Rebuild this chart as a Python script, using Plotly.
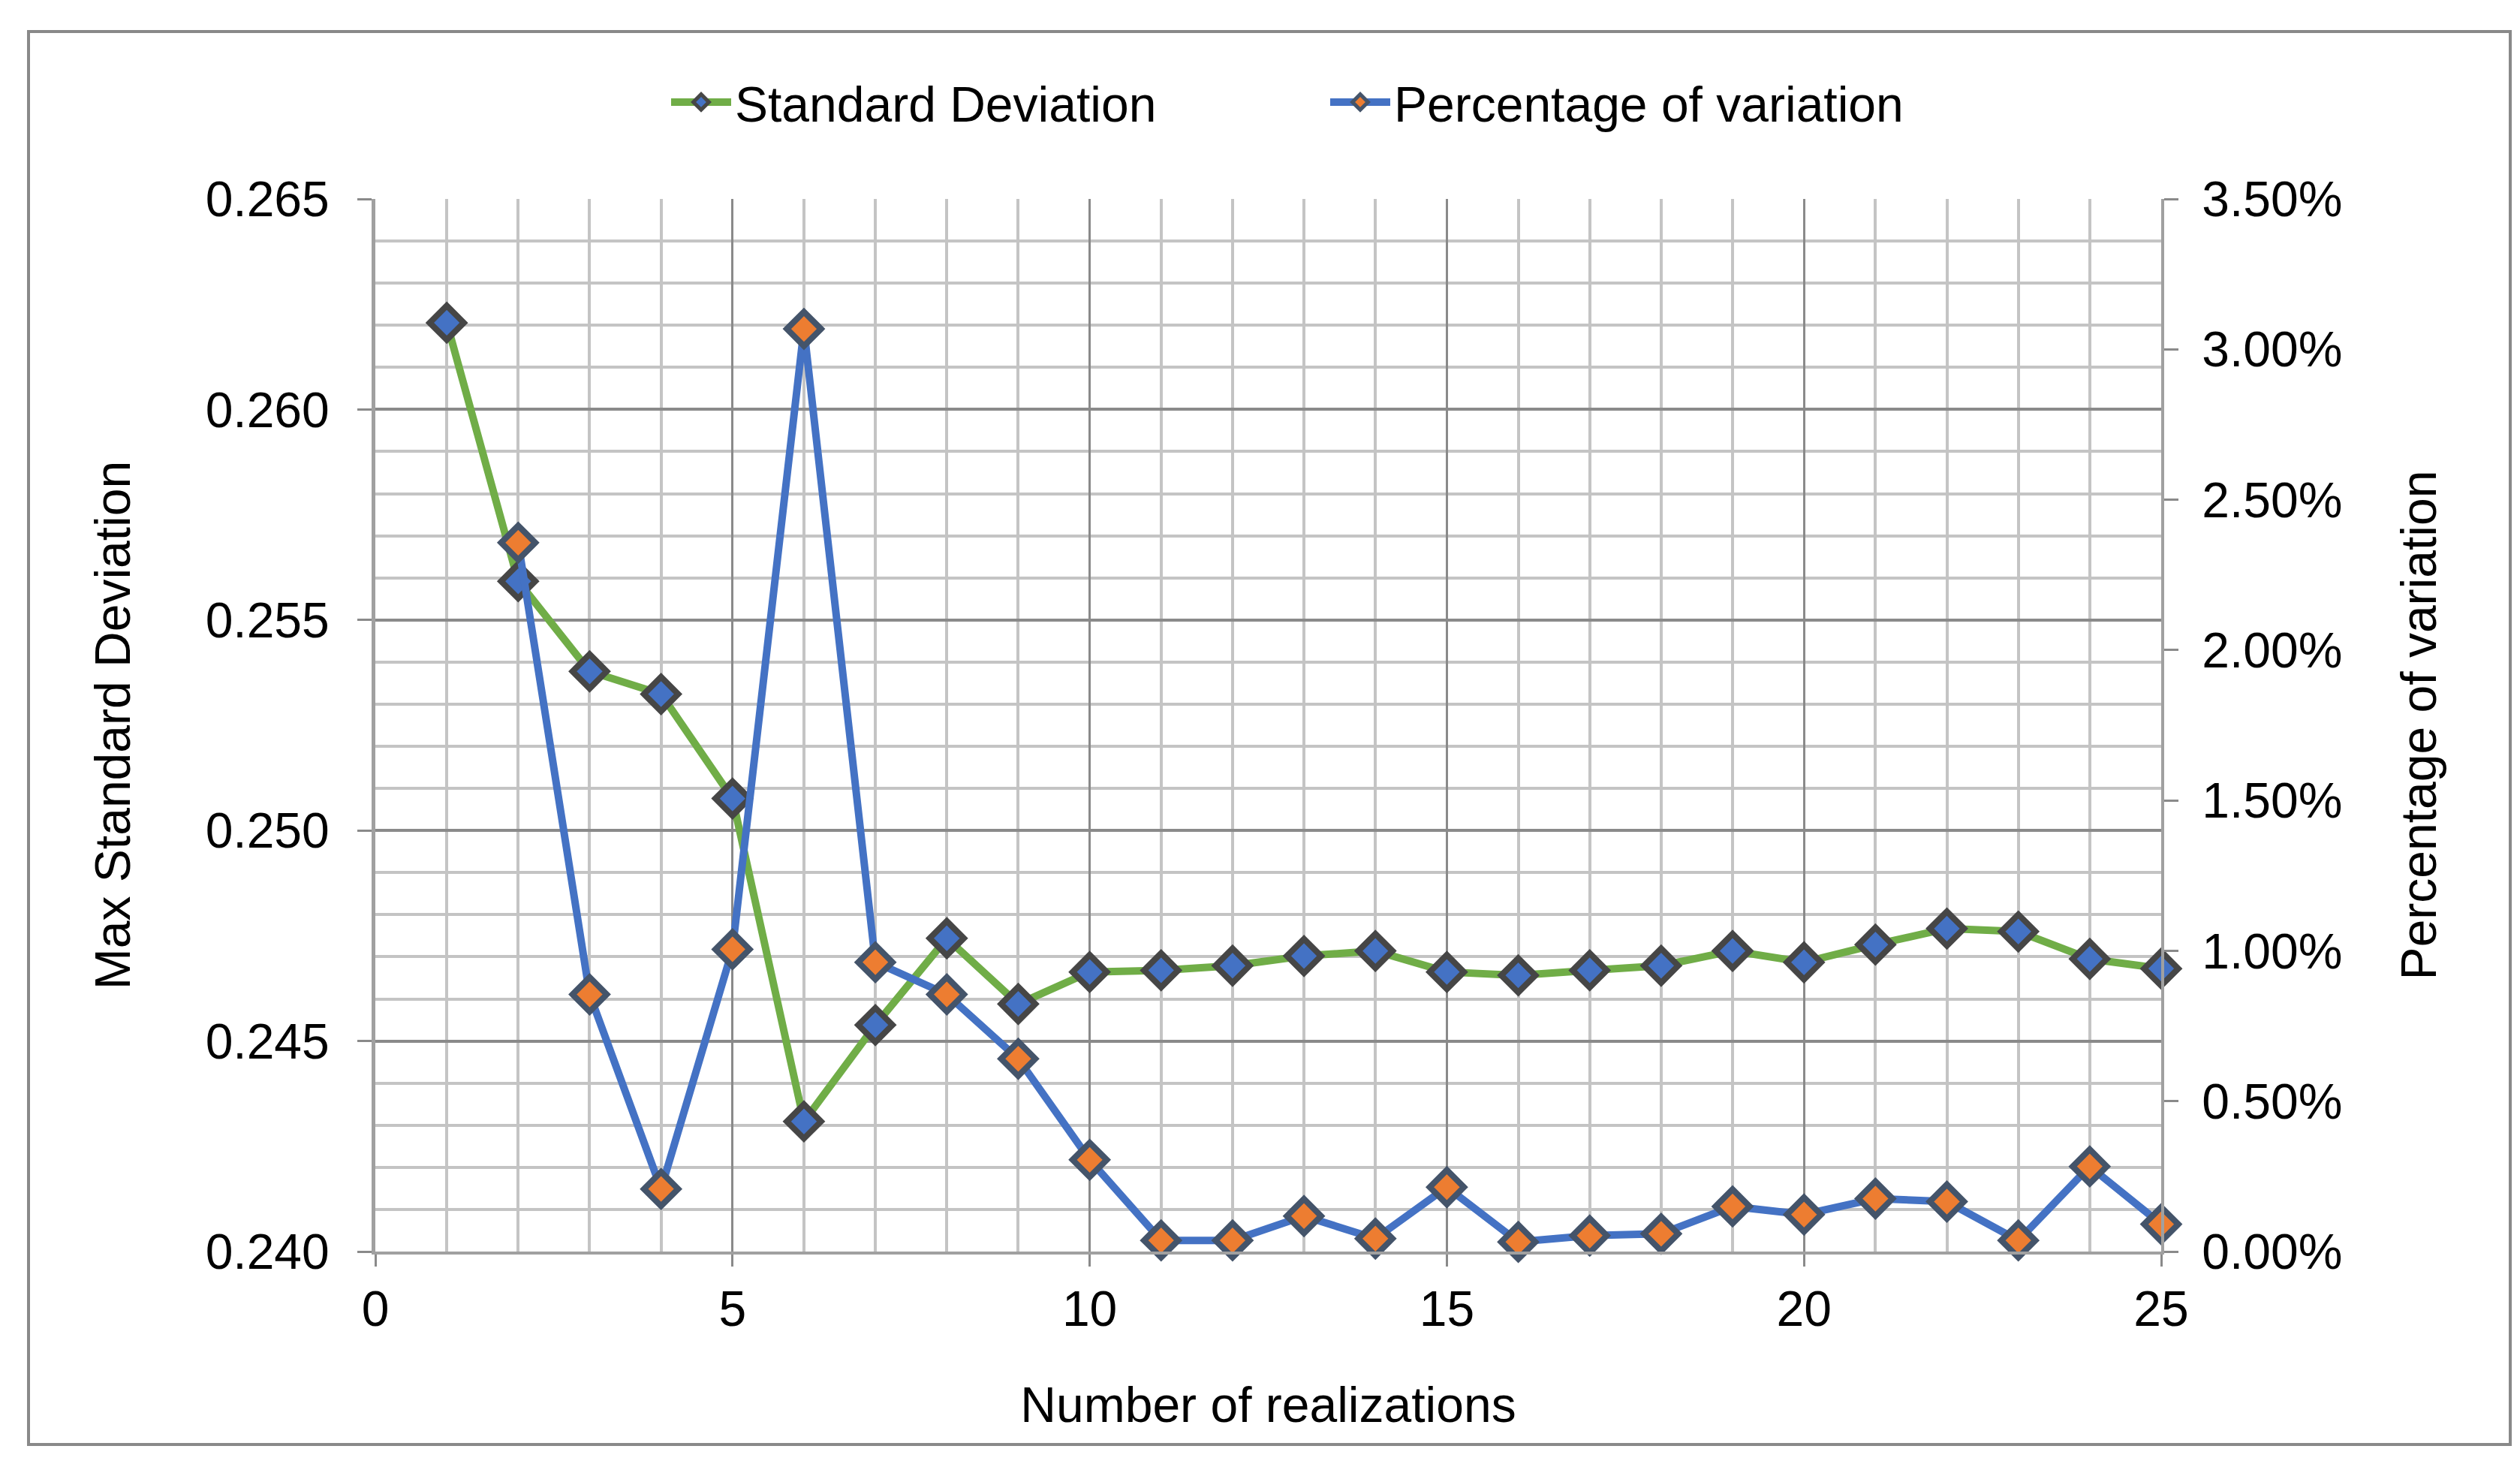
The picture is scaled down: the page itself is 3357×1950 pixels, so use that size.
import plotly.graph_objects as go

realizations = list(range(1, 26))
std_dev = [0.26206, 0.25592, 0.25378, 0.25324, 0.25076, 0.24309, 0.24538, 0.24744,
           0.24588, 0.24664, 0.24668, 0.24679, 0.24702, 0.24714, 0.24664, 0.24656,
           0.24668, 0.24679, 0.24714, 0.24687, 0.24729, 0.24767, 0.24760, 0.24695,
           0.24672]
pct_x = list(range(2, 26))
pct_var = [0.02357, 0.00855, 0.00208, 0.01005, 0.03068, 0.00962, 0.00855, 0.00641,
           0.00305, 0.00037, 0.00037, 0.00118, 0.00043, 0.00214, 0.00032, 0.00053,
           0.00059, 0.00150, 0.00123, 0.00176, 0.00166, 0.00037, 0.00283, 0.00091]

FONT = "Liberation Sans, Arial, sans-serif"
FS = 66

fig = go.Figure()
fig.add_trace(go.Scatter(
    x=realizations, y=std_dev, name="Standard Deviation", mode="lines+markers",
    line=dict(color="#70AD47", width=10),
    marker=dict(symbol="diamond", size=35, color="#4472C4",
                line=dict(color="#464646", width=8)),
    yaxis="y", cliponaxis=False))
fig.add_trace(go.Scatter(
    x=pct_x, y=pct_var, name="Percentage of variation", mode="lines+markers",
    line=dict(color="#4472C4", width=10),
    marker=dict(symbol="diamond", size=35, color="#ED7D31",
                line=dict(color="#44546A", width=8)),
    yaxis="y2", cliponaxis=False))

W, H = 3357, 1950
L, R, T, B = 492, 486, 257, 291
pw, ph = W - L - R, H - T - B

fig.update_layout(
    width=W, height=H,
    margin=dict(l=L, r=R, t=T, b=B),
    paper_bgcolor="white", plot_bgcolor="white",
    font=dict(family=FONT, size=FS, color="black"),
    showlegend=True,
    legend=dict(orientation="h", x=(881 - L) / pw, xanchor="left", y=(H - 128 - B) / ph,
                yanchor="middle", font=dict(size=FS), itemwidth=80,
                entrywidth=783, entrywidthmode="pixels",
                bgcolor="rgba(0,0,0,0)"),
    xaxis=dict(
        range=[0, 25], dtick=5, tick0=0,
        showgrid=True, gridcolor="#8a8a8a", gridwidth=3,
        minor=dict(dtick=1, showgrid=True, gridcolor="#c4c4c4", gridwidth=4,
                   ticks=""),
        ticks="outside", ticklen=16, tickwidth=3, tickcolor="#8a8a8a",
        showline=True, linecolor="#a0a0a0", linewidth=4,
        zeroline=False,
        title=dict(text="Number of realizations", standoff=70, font=dict(size=FS)),
        tickfont=dict(size=FS),
    ),
    yaxis=dict(
        range=[0.240, 0.265], dtick=0.005, tick0=0.240, tickformat=".3f",
        showgrid=True, gridcolor="#8a8a8a", gridwidth=4,
        minor=dict(dtick=0.001, showgrid=True, gridcolor="#c4c4c4", gridwidth=4,
                   ticks=""),
        ticks="outside", ticklen=19, tickwidth=3, tickcolor="#8a8a8a",
        showline=True, linecolor="#a0a0a0", linewidth=5,
        zeroline=False, ticklabelstandoff=24,
        title=dict(text="Max Standard Deviation", standoff=80, font=dict(size=FS)),
        tickfont=dict(size=FS),
    ),
    yaxis2=dict(
        range=[0, 0.035], dtick=0.005, tick0=0, tickformat=".2%",
        overlaying="y", side="right", showgrid=False,
        ticks="outside", ticklen=19, tickwidth=3, tickcolor="#8a8a8a",
        showline=True, linecolor="#a0a0a0", linewidth=4,
        zeroline=False, ticklabelstandoff=18,
        title=dict(text="Percentage of variation", standoff=80, font=dict(size=FS)),
        tickfont=dict(size=FS),
    ),
)

fig.add_shape(type="rect", xref="paper", yref="paper",
              x0=(30 - L) / pw, x1=(3336 - L) / pw,
              y0=(H - 1916 - B) / ph, y1=(H - 34 - B) / ph,
              line=dict(color="#898989", width=4), layer="below")

fig.write_html("out.html")
